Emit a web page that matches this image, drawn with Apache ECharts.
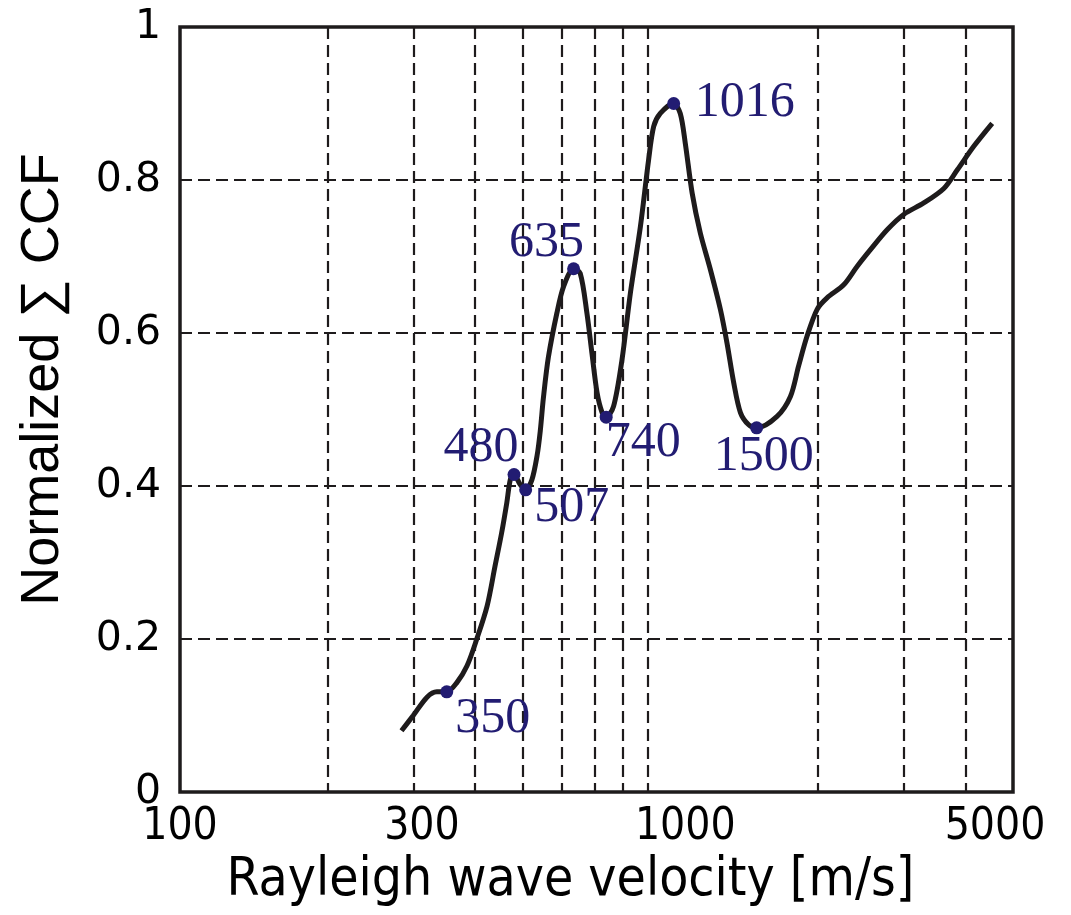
<!DOCTYPE html>
<html>
<head>
<meta charset="utf-8">
<style>
  html, body { margin: 0; padding: 0; background: #ffffff; }
  #chart { width: 1071px; height: 915px; }
</style>
<script src="https://cdn.jsdelivr.net/npm/echarts@6/dist/echarts.min.js"></script>
</head>
<body>
<div id="chart"></div>
<script>
// Stacked cross-correlation versus trial Rayleigh wave velocity
const velocity = [283, 299, 319, 334, 350, 367, 385, 403, 423, 439, 453, 464, 472, 480, 494, 507, 522, 535, 543, 551, 564, 587, 606, 635, 655, 676, 692, 709, 726, 740, 766, 797, 829, 869, 903, 925, 954, 1016, 1048, 1073, 1108, 1151, 1207, 1265, 1305, 1347, 1390, 1445, 1500, 1651, 1758, 1827, 1901, 1993, 2088, 2258, 2404, 2560, 2769, 2993, 3288, 3613, 3847, 4159, 4535];
const ccf = [0.080, 0.100, 0.124, 0.131, 0.131, 0.143, 0.165, 0.200, 0.243, 0.295, 0.339, 0.378, 0.409, 0.415, 0.402, 0.395, 0.408, 0.440, 0.472, 0.515, 0.568, 0.626, 0.661, 0.684, 0.678, 0.626, 0.574, 0.522, 0.496, 0.490, 0.504, 0.565, 0.652, 0.739, 0.826, 0.870, 0.887, 0.900, 0.887, 0.848, 0.783, 0.731, 0.683, 0.631, 0.587, 0.535, 0.496, 0.480, 0.476, 0.491, 0.517, 0.557, 0.596, 0.631, 0.646, 0.663, 0.687, 0.709, 0.735, 0.755, 0.770, 0.789, 0.813, 0.844, 0.874];

// Picked extrema of the curve
const peakVelocity = [350, 480, 507, 635, 740, 1016, 1500];
const peakCcf = [0.131, 0.415, 0.395, 0.684, 0.490, 0.900, 0.476];

// Axis ticks
const xGridValues = [200, 300, 400, 500, 600, 700, 800, 900, 2000, 3000, 4000];
const xLabelValues = [100, 300, 1000, 5000];

// Where each extremum label sits relative to its dot (px)
const labelOffsets = [[46, 27], [-33, -27], [46, 18], [-27, -26], [37, 26], [71, -1], [7, 29]];

const ink = '#1e1b1c';
const navy = '#221c72';
const dash = { type: [12, 6], width: 2.2, color: ink };
const sansCond = "'DejaVu Sans Condensed', 'DejaVu Sans'";

const chart = echarts.init(document.getElementById('chart'), null, { renderer: 'canvas' });

chart.setOption({
  animation: false,
  backgroundColor: '#ffffff',
  grid: {
    left: 180, right: 58, top: 27, bottom: 123,
    show: true, borderColor: ink, borderWidth: 3.5,
    outerBoundsMode: 'none'
  },
  xAxis: {
    type: 'log',
    logBase: 10,
    min: 100,
    max: 5000,
    name: 'Rayleigh wave velocity [m/s]',
    nameLocation: 'middle',
    nameGap: 58,
    nameTextStyle: { fontFamily: sansCond, fontSize: 53, color: '#000', padding: [0, 52, 0, 0] },
    axisLine: { show: false },
    axisTick: { show: false, customValues: xGridValues },
    axisLabel: {
      customValues: xLabelValues,
      margin: 14,
      fontFamily: sansCond,
      fontSize: 44,
      color: '#000',
      formatter: v => {
        const r = Math.round(v);
        return '{t' + r + '|' + r + '}';
      },
      rich: {
        t100: {},
        t300: { padding: [0, 0, 0, 16] },
        t1000: { padding: [0, 0, 0, 30] },
        t5000: { padding: [0, 36, 0, 0] }
      }
    },
    splitLine: { show: true, lineStyle: dash }
  },
  yAxis: {
    type: 'value',
    min: 0,
    max: 1,
    interval: 0.2,
    name: 'Normalized \u2211 CCF',
    nameLocation: 'middle',
    nameGap: 110,
    nameTextStyle: { fontFamily: "'Liberation Sans', Arial", fontSize: 54, color: '#000', padding: [0, 0, 0, 60] },
    axisLine: { show: false },
    axisTick: { show: false },
    axisLabel: { margin: 19, fontFamily: "'DejaVu Sans'", fontSize: 41, color: '#000' },
    splitLine: { show: true, lineStyle: dash }
  },
  series: [
    {
      type: 'line',
      data: velocity.map((v, i) => [v, ccf[i]]),
      smooth: 0.3,
      showSymbol: false,
      lineStyle: { color: ink, width: 5 },
      z: 3
    },
    {
      type: 'scatter',
      data: peakVelocity.map((v, i) => ({
        value: [v, peakCcf[i]],
        label: { offset: labelOffsets[i] }
      })),
      symbol: 'circle',
      symbolSize: 13,
      itemStyle: { color: navy, opacity: 1 },
      label: {
        show: true,
        position: 'inside',
        formatter: p => String(p.value[0]),
        fontFamily: "'Liberation Serif', 'DejaVu Serif', serif",
        fontSize: 50,
        color: navy,
        opacity: 1
      },
      z: 4
    }
  ]
});
</script>
</body>
</html>
